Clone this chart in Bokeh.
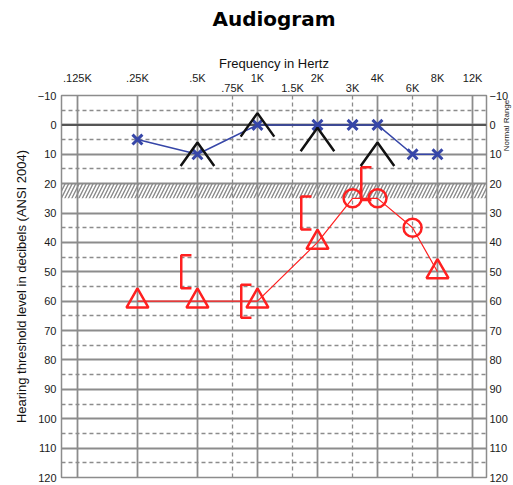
import numpy as np
from bokeh.plotting import figure
from bokeh.models import (Range1d, FixedTicker, LogAxis, LinearAxis, Grid, Span,
                          BoxAnnotation, Title)
from bokeh.embed import file_html
from bokeh.resources import INLINE

# ---- tick labels ----
octave_freqs = [0.125, 0.25, 0.5, 1, 2, 4, 8, 12]
octave_labels = [".125K", ".25K", ".5K", "1K", "2K", "4K", "8K", "12K"]
mid_freqs = [0.75, 1.5, 3, 6]
mid_labels = [".75K", "1.5K", "3K", "6K"]
db_ticks = list(range(-10, 121, 10))
db_half_ticks = [-5, 5, 15, 35, 45, 55, 65, 75, 85, 95, 105, 115]
normal_range_label_db = [9]
normal_range_label = ["Normal Range"]

# ---- data (frequency in kHz, hearing level in dB) ----
left_air_freq = [0.25, 0.5, 1, 2, 3, 4, 6, 8]
left_air_db = [5, 10, 0, 0, 0, 0, 10, 10]
right_line_freq = [0.25, 0.5, 1, 2, 3, 4, 6, 8]
right_line_db = [60, 60, 60, 40, 25, 25, 35, 50]
right_masked_freq = [0.25, 0.5, 1, 2, 8]
right_masked_db = [60, 60, 60, 40, 50]
right_unmasked_freq = [3, 4, 6]
right_unmasked_db = [25, 25, 35]
bone_freq = [0.5, 1, 2, 4]
bone_db = [10, 0, 5, 10]
masked_bone_freq = [0.5, 1, 2, 4]
masked_bone_db = [50, 60, 30, 20]
band_top_db, band_bottom_db = 20, 25

# ---- symbol shape sizes ----
CARET_HALF_OCT = 0.28
CARET_HALF_DB = 4.0
BR_OUT_OCT = 0.27
BR_IN_OCT = 0.10
BR_HALF_DB = 5.6

caret_xs = [[f * 2 ** -CARET_HALF_OCT, f, f * 2 ** CARET_HALF_OCT] for f in bone_freq]
caret_ys = [[d + CARET_HALF_DB, d - CARET_HALF_DB, d + CARET_HALF_DB] for d in bone_db]
br_xs = [[f * 2 ** -BR_IN_OCT, f * 2 ** -BR_OUT_OCT, f * 2 ** -BR_OUT_OCT, f * 2 ** -BR_IN_OCT]
         for f in masked_bone_freq]
br_ys = [[d - BR_HALF_DB, d - BR_HALF_DB, d + BR_HALF_DB, d + BR_HALF_DB] for d in masked_bone_db]

FONT = "Liberation Sans"
GRID = "#8c8c8c"
BLUE = "#3646a8"
RED = "#ff2020"

p = figure(frame_width=425, frame_height=382, output_backend="svg", toolbar_location=None,
           x_axis_type="log", x_axis_location="above",
           x_range=Range1d(0.104, 14.09), y_range=Range1d(120, -10),
           min_border_left=61, min_border_right=27, min_border_top=95, min_border_bottom=8,
           background_fill_color="white", border_fill_color="white")

p.title.text = "Audiogram"
p.title.align = "center"
p.title.text_font = "DejaVu Sans"
p.title.text_font_size = "20px"
p.title.text_font_style = "bold"
p.title.text_color = "black"
p.title.standoff = 8

p.outline_line_color = GRID
p.outline_line_width = 1.5

# inner top axis: half-octave labels
ax_in = p.xaxis[0]
ax_in.ticker = FixedTicker(ticks=mid_freqs)
ax_in.major_label_overrides = dict(zip(mid_freqs, mid_labels))
# outer top axis: octave labels
ax_out = LogAxis(ticker=FixedTicker(ticks=octave_freqs),
                 major_label_overrides=dict(zip(octave_freqs, octave_labels)),
                 axis_label="Frequency in Hertz")
p.add_layout(ax_out, "above")
# empty spacer between the frequency caption and the title
p.add_layout(Title(text=" ", text_font_size="10px", standoff=5), "above")

ax_right = LinearAxis(ticker=FixedTicker(ticks=db_ticks))
p.add_layout(ax_right, "right")
ax_normal = LinearAxis(ticker=FixedTicker(ticks=normal_range_label_db),
                       major_label_overrides=dict(zip(normal_range_label_db, normal_range_label)),
                       major_label_orientation=np.pi / 2)
p.add_layout(ax_normal, "right")
ax_left = p.yaxis[0]
ax_left.ticker = FixedTicker(ticks=db_ticks)
ax_left.axis_label = "Hearing threshold level in decibels (ANSI 2004)"

for ax in [ax_in, ax_out, ax_left, ax_right, ax_normal]:
    ax.axis_line_color = None
    ax.major_tick_line_color = None
    ax.minor_tick_line_color = None
    ax.major_tick_out = 0
    ax.major_tick_in = 0
    ax.minor_tick_out = 0
    ax.minor_tick_in = 0
    ax.major_label_text_font = FONT
    ax.major_label_text_font_size = "11px"
    ax.major_label_text_color = "#1a1a1a"
    ax.axis_label_text_font = FONT
    ax.axis_label_text_font_size = "13px"
    ax.axis_label_text_font_style = "normal"
    ax.axis_label_text_color = "#111111"
ax_normal.major_label_text_font_size = "8px"
ax_in.major_label_standoff = 2
ax_out.major_label_standoff = -5
ax_out.axis_label_standoff = -2
ax_left.major_label_standoff = 5
ax_left.axis_label_standoff = 6
ax_right.major_label_standoff = 3
ax_normal.major_label_standoff = -5

# grids
p.xgrid[0].ticker = FixedTicker(ticks=octave_freqs)
p.xgrid[0].grid_line_color = GRID
p.xgrid[0].grid_line_width = 1.8
p.ygrid[0].ticker = FixedTicker(ticks=db_ticks)
p.ygrid[0].grid_line_color = GRID
p.ygrid[0].grid_line_width = 1.8
p.add_layout(Grid(dimension=0, ticker=FixedTicker(ticks=mid_freqs), grid_line_color=GRID,
                  grid_line_width=1.3, grid_line_dash="4 3"))
p.add_layout(Grid(dimension=1, ticker=FixedTicker(ticks=db_half_ticks), grid_line_color=GRID,
                  grid_line_width=1.3, grid_line_dash="4 3"))
p.add_layout(Span(location=0, dimension="width", line_color="#555555", line_width=2,
                  level="underlay"))
p.add_layout(BoxAnnotation(top=band_top_db, bottom=band_bottom_db, fill_alpha=0,
                           line_color=None, hatch_pattern="right_diagonal_line",
                           hatch_color="#8a8a8a", hatch_scale=7, hatch_weight=1.4,
                           level="underlay"))

# left ear (blue)
p.line(left_air_freq, left_air_db, line_color=BLUE, line_width=1.5)
p.scatter(left_air_freq, left_air_db, marker="x", size=14, line_color=BLUE, line_width=3)

# right ear (red)
p.line(right_line_freq, right_line_db, line_color=RED, line_width=1.2)
p.scatter(right_masked_freq, right_masked_db, marker="triangle", size=22,
          line_color=RED, line_width=2.5, fill_alpha=0)
p.scatter(right_unmasked_freq, right_unmasked_db, marker="circle", size=18,
          line_color=RED, line_width=2.5, fill_alpha=0)
p.multi_line(br_xs, br_ys, line_color=RED, line_width=2.5)

# bone conduction (black carets)
p.multi_line(caret_xs, caret_ys, line_color="#111111", line_width=2.5)

open("out.html", "w").write(file_html(p, INLINE))
